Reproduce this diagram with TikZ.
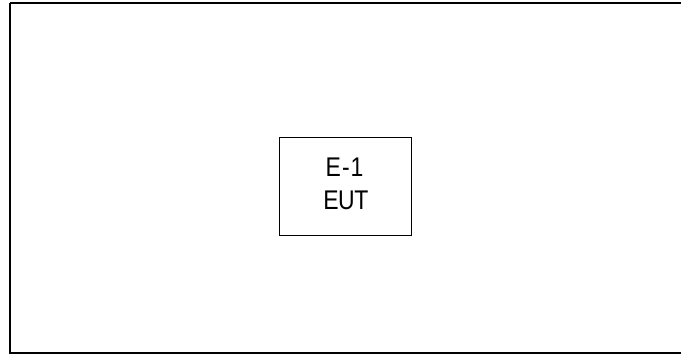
\documentclass[tikz,border=0pt]{standalone}
\usepackage{fontspec}
\setmainfont{Liberation Sans}
\begin{document}
\begin{tikzpicture}[x=1pt,y=1pt,
  frame/.style={draw=black,line width=2pt},
  eutbox/.style={draw=black,line width=1.4pt},
  lbl/.style={font=\fontsize{27}{32}\selectfont,anchor=base,inner sep=0pt,xscale=0.85}]
\useasboundingbox (0,0) rectangle (681,354);
\clip (0,0) rectangle (681,354);
\draw[frame] (10,351) -- (700,351);
\draw[frame] (10,351) -- (10,1) -- (700,1);
\draw[eutbox] (279.3,118.3) rectangle (411.7,216.7);
\node[lbl] (e1) at (344.5,177.3) {E\kern1.5pt-\kern1pt1};
\node[lbl] (eut) at (345.8,144.5) {E\kern-0.5pt U\kern-0.5pt T};
\end{tikzpicture}
\end{document}
